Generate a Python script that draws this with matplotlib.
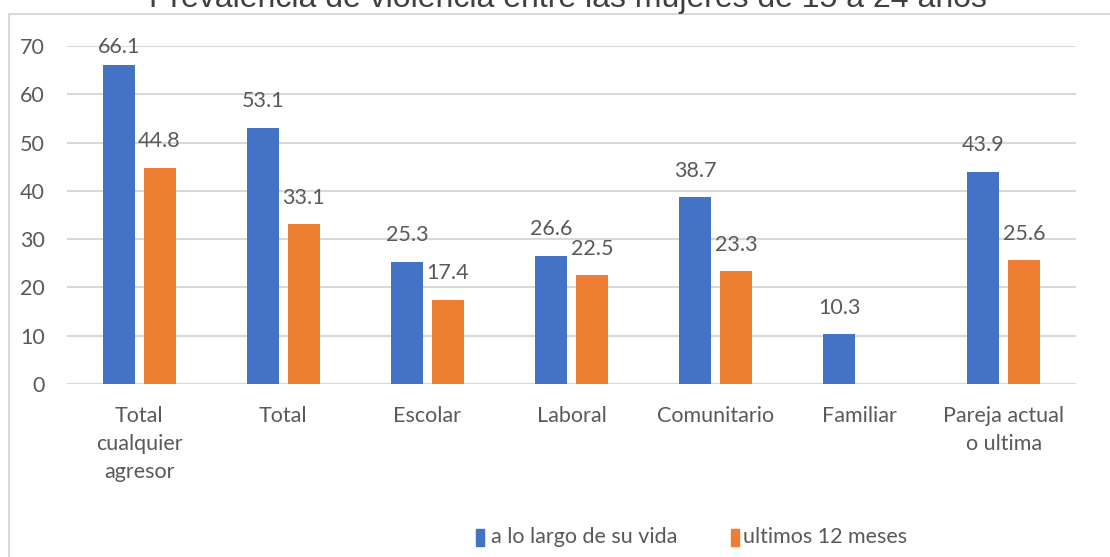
import numpy as np
import matplotlib.pyplot as plt
from matplotlib.patches import Rectangle

categories = ['Total\ncualquier\nagresor', 'Total', 'Escolar', 'Laboral',
              'Comunitario', 'Familiar', 'Pareja actual\no ultima']
vida = [66.1, 53.1, 25.3, 26.6, 38.7, 10.3, 43.9]
ultimos = [44.8, 33.1, 17.4, 22.5, 23.3, None, 25.6]
yticks = [0, 10, 20, 30, 40, 50, 60, 70]

blue = '#4472C4'
orange = '#ED7D31'
gray = '#595959'
grid = '#D9D9D9'
font = ['Lato', 'DejaVu Sans']
fs = 15.5

fig = plt.figure(figsize=(11.1, 5.57), dpi=100)
W, H = 1110, 557

# chart frame (cut by the screenshot on right and bottom)
fig.patches.append(Rectangle((9 / W, -0.1), 1.2, 1 - 14 / H + 0.1,
                             transform=fig.transFigure, fill=False,
                             edgecolor=grid, linewidth=1.5))

ax = fig.add_axes([67 / W, 1 - 384 / H, 1009 / W, 338 / H])
x = np.arange(len(categories))
w = 0.222
off = 0.142
v2 = [np.nan if v is None else v for v in ultimos]
ax.bar(x - off, vida, w, color=blue, zorder=3)
ax.bar(x + off, v2, w, color=orange, zorder=3)

# labels sit above the bars but stay inside the plot area (like excel)
def label(xpos, v):
    ypos = min(v + 5.5, 69.8)
    ax.text(xpos, ypos, f'{v}', ha='center', va='center', fontsize=fs,
            color=gray, family=font)

for xi, v in zip(x, vida):
    label(xi - off, v)
for xi, v in zip(x, ultimos):
    if v is not None:
        label(xi + off, v)

ax.set_xlim(-0.5, len(categories) - 0.5)
ax.set_ylim(0, 70)
ax.set_yticks(yticks)
ax.set_xticks(x)
ax.set_xticklabels(categories, fontsize=fs, color=gray, family=font, linespacing=1.5)
ax.tick_params(axis='x', length=0, pad=16)
ax.tick_params(axis='y', length=0, pad=16, labelsize=fs, labelcolor=gray)
for lab in ax.get_yticklabels():
    lab.set_family(font)
ax.grid(axis='y', color=grid, linewidth=1.5, zorder=0)
for s in ax.spines.values():
    s.set_visible(False)

fig.text(568 / W, 1 - 7 / H, 'Prevalencia de violencia entre las mujeres de 15 a 24 años',
         ha='center', va='baseline', fontsize=23, color='#404040', family='Liberation Sans')

# legend
fig.patches.append(Rectangle((476 / W, 1 - 546 / H), 8 / W, 17 / H,
                             transform=fig.transFigure, color=blue))
fig.text(491 / W, 1 - 537 / H, 'a lo largo de su vida', ha='left', va='center',
         fontsize=fs, color=gray, family=font)
fig.patches.append(Rectangle((731 / W, 1 - 546 / H), 8 / W, 17 / H,
                             transform=fig.transFigure, color=orange))
fig.text(743 / W, 1 - 537 / H, 'ultimos 12 meses', ha='left', va='center',
         fontsize=fs, color=gray, family=font)

fig.savefig('out.png', dpi=100)
